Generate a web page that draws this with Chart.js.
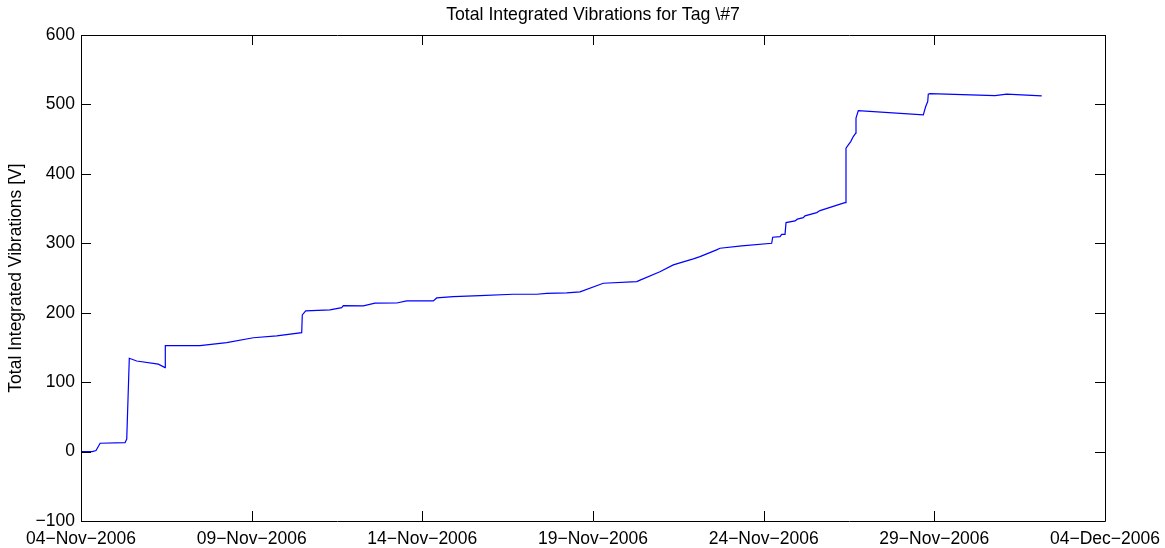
<!DOCTYPE html>
<html>
<head>
<meta charset="utf-8">
<script src="https://cdn.jsdelivr.net/npm/chart.js@4"></script>
<style>
  html, body { margin: 0; padding: 0; background: #fff; }
</style>
</head>
<body>
<canvas id="vibCanvas" width="1165" height="548"></canvas>
<script>
// days after 04-Nov-2006 and integrated vibration values
const days = [
  0, 0.33, 0.44, 0.56, 1.29, 1.34, 1.415, 1.632, 2.265, 2.461,
  2.47, 3.486, 4.269, 5.048, 5.733, 6.466, 6.483, 6.583, 7.295, 7.638,
  7.685, 8.271, 8.613, 9.249, 9.542, 10.321, 10.421, 10.907, 11.689, 12.665,
  13.351, 13.644, 14.23, 14.619, 15.302, 16.28, 16.38, 16.96, 17.353, 17.94,
  18.134, 18.62, 18.72, 19.356, 20.235, 20.265, 20.479, 20.529, 20.626, 20.655,
  20.919, 20.986, 21.161, 21.211, 21.554, 21.651, 22.333, 22.383, 22.412, 22.48,
  22.55, 22.626, 22.697, 22.705, 22.773, 24.677, 24.747, 24.806, 24.823, 24.873,
  26.777, 27.12, 28.146
];
const vibrations = [
  0, 0, 1.5, 12, 12.8, 18, 134.4, 130.5, 126, 121,
  152.6, 152.6, 157, 164, 166.6, 171.3, 196.8, 202.6, 204, 207.4,
  210.2, 209.8, 213.7, 214, 217, 217, 221.3, 223.2, 224.6, 226.6,
  226.6, 228, 228.5, 230, 242.5, 244.8, 247, 259, 268.9, 277.5,
  280.8, 290.5, 292.9, 296.3, 300.1, 308.8, 309.7, 313, 313, 329.8,
  332.3, 334.8, 337, 339.5, 344.2, 347.1, 357.8, 358.6, 437, 441.8,
  446.5, 453.8, 458.6, 480.3, 491.2, 485, 497, 504.2, 514.8, 515.7,
  512.8, 514.8, 512.4
];
const dateLabels = ["04−Nov−2006", "09−Nov−2006", "14−Nov−2006", "19−Nov−2006",
                    "24−Nov−2006", "29−Nov−2006", "04−Dec−2006"];
const yTicks = [-100, 0, 100, 200, 300, 400, 500, 600];

const points = days.map((d, i) => ({ x: d, y: vibrations[i] }));
const fontName = "'Liberation Sans', Arial, Helvetica, sans-serif";

// matlab style box with ticks pointing inwards on all four sides
const boxPlugin = {
  id: "boxPlugin",
  afterDraw(chart) {
    const { ctx, chartArea: a, scales } = chart;
    const tl = 10;
    ctx.save();
    ctx.strokeStyle = "#000";
    ctx.lineWidth = 1;
    ctx.beginPath();
    ctx.rect(Math.round(a.left) + 0.5, Math.round(a.top) + 0.5,
             Math.round(a.right - a.left), Math.round(a.bottom - a.top));
    scales.x.ticks.forEach(t => {
      const px = Math.round(scales.x.getPixelForValue(t.value)) + 0.5;
      ctx.moveTo(px, a.bottom); ctx.lineTo(px, a.bottom - tl);
      ctx.moveTo(px, a.top); ctx.lineTo(px, a.top + tl);
    });
    scales.y.ticks.forEach(t => {
      const py = Math.round(scales.y.getPixelForValue(t.value)) + 0.5;
      ctx.moveTo(a.left, py); ctx.lineTo(a.left + tl, py);
      ctx.moveTo(a.right, py); ctx.lineTo(a.right - tl, py);
    });
    ctx.stroke();
    ctx.restore();
  }
};

const vibChart = new Chart(document.getElementById("vibCanvas"), {
  type: "line",
  data: {
    datasets: [{
      label: "Total Integrated Vibrations",
      data: points,
      borderColor: "rgb(0,0,255)",
      borderWidth: 1.2,
      pointRadius: 0,
      fill: false,
      tension: 0
    }]
  },
  options: {
    responsive: false,
    animation: false,
    layout: { padding: { left: 0, right: 60, top: 0, bottom: 0 } },
    plugins: {
      legend: { display: false },
      tooltip: { enabled: false },
      title: {
        display: true,
        fullSize: false,
        text: "Total Integrated Vibrations for Tag \\#7",
        color: "#000",
        font: { family: fontName, size: 17.7, weight: "normal" },
        padding: { top: 4, bottom: 9.8 }
      }
    },
    scales: {
      x: {
        type: "linear",
        min: 0,
        max: 30,
        grid: { display: false, drawTicks: false },
        border: { display: false },
        afterFit: (scale) => {
          scale.height = 27;
          scale.paddingLeft = 0;
          scale.paddingRight = 0;
        },
        afterBuildTicks: (scale) => {
          scale.ticks = dateLabels.map((_, i) => ({ value: i * 5 }));
        },
        ticks: {
          color: "#000",
          padding: 8,
          maxRotation: 0,
          autoSkip: false,
          font: { family: fontName, size: 17.5 },
          callback: (v) => dateLabels[Math.round(v / 5)]
        }
      },
      y: {
        min: -100,
        max: 600,
        grid: { display: false, drawTicks: false },
        border: { display: false },
        afterFit: (scale) => {
          scale.width = 81;
          scale.paddingTop = 0;
          scale.paddingBottom = 0;
        },
        afterBuildTicks: (scale) => {
          scale.ticks = yTicks.map(v => ({ value: v }));
        },
        ticks: {
          color: "#000",
          padding: 6,
          font: { family: fontName, size: 17.5 },
          callback: (v) => (v < 0 ? "−" + Math.abs(v) : String(v))
        },
        title: {
          display: true,
          text: "Total Integrated Vibrations [V]",
          color: "#000",
          font: { family: fontName, size: 17.5 },
          padding: { top: 6, bottom: 0 }
        }
      }
    }
  },
  plugins: [boxPlugin]
});
</script>
</body>
</html>
